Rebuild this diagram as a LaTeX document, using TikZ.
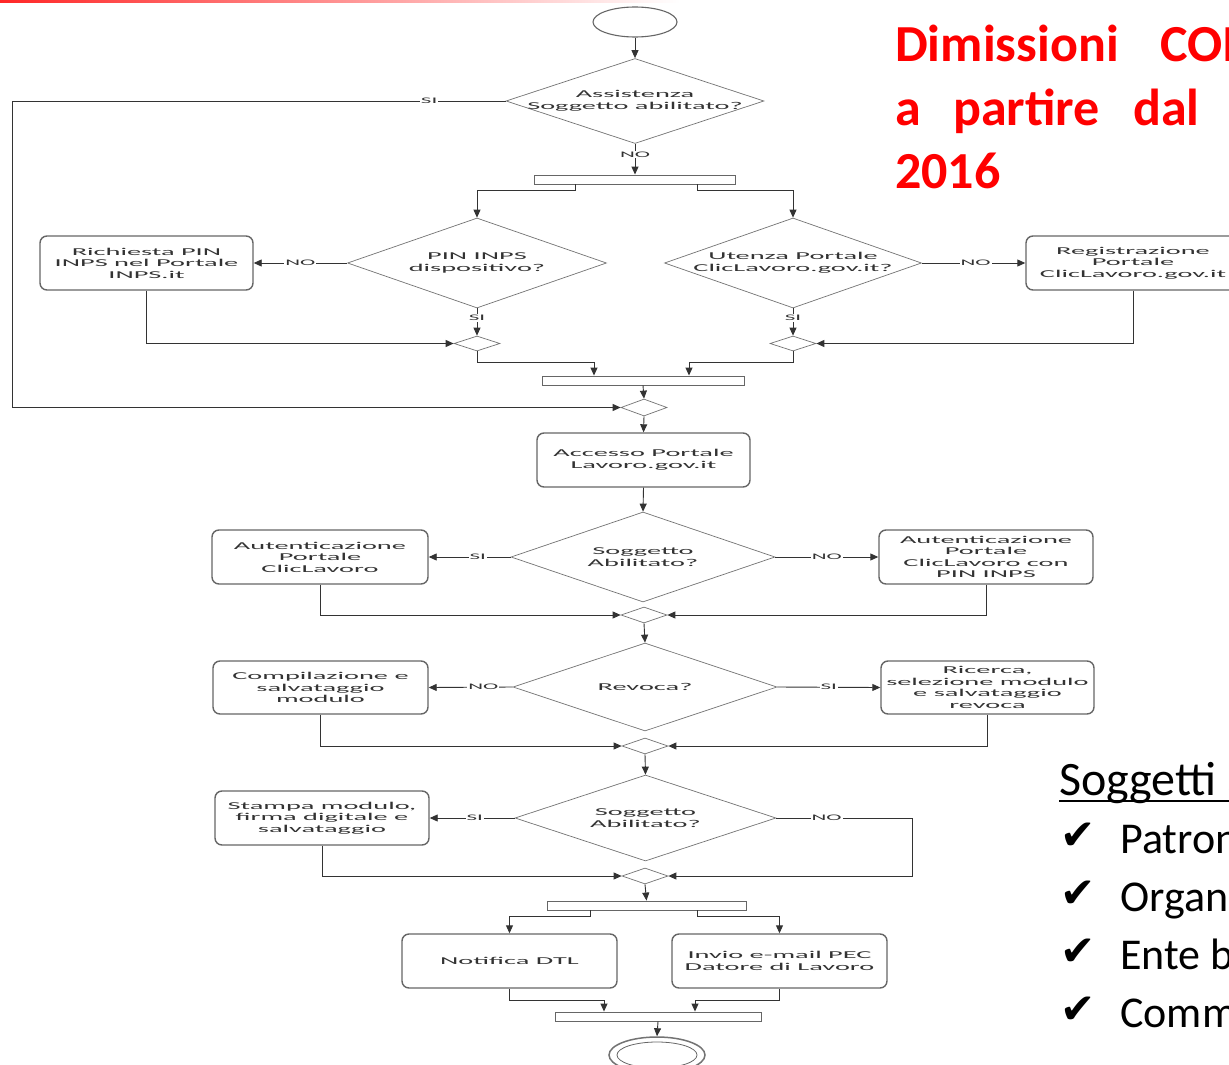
\documentclass[tikz,border=0pt]{standalone}
\usepackage{fontspec}
\setmainfont{Carlito}
\newfontfamily\flowfont[FakeStretch=2.7]{Carlito}
\newfontfamily\checkfont{DejaVu Sans}
\usetikzlibrary{shapes.geometric,arrows.meta}
\definecolor{titlered}{RGB}{255,0,0}
\newcommand\flowtext{\flowfont\fontsize{10.5}{11.5}\selectfont}
\newcommand\flowsmall{\flowfont\fontsize{8.5}{9}\selectfont}
\tikzset{
 ln/.style={draw=black!80, line width=0.9pt},
 arr/.style={ln, -{Triangle[length=8pt,width=7pt]}},
 box/.style={draw=black!60, line width=1.4pt, rounded corners=7pt, fill=white, align=center, minimum width=213pt, minimum height=54pt, inner sep=0pt, font=\flowtext, text=black!80},
 dec/.style={diamond, draw=black!55, line width=0.7pt, fill=white, inner sep=0pt},
 dectext/.style={align=center, font=\flowtext, inner sep=0pt, text=black!80},
 merge/.style={diamond, draw=black!55, line width=0.7pt, fill=white, inner sep=0pt, minimum width=46pt, minimum height=16pt},
 bar/.style={rectangle, draw=black!60, line width=0.9pt, fill=white, inner sep=0pt, minimum height=9pt},
 lab/.style={fill=white, inner sep=1pt, font=\flowsmall, text=black!80},
 ttl/.style={anchor=base west, inner sep=0pt, text=titlered, font=\bfseries\fontsize{52}{60}\selectfont},
 itm/.style={anchor=base west, inner sep=0pt, font=\fontsize{44}{50}\selectfont},
 chk/.style={anchor=base west, inner sep=0pt, font=\checkfont\fontsize{42}{44}\selectfont},
}
\begin{document}
\begin{tikzpicture}[x=1pt,y=-1pt]
\useasboundingbox (0,0) rectangle (1229,1065);
\clip (0,0) rectangle (1229,1065);
\fill[white] (0,0) rectangle (1229,1065);
\fill[left color=red!85, right color=white] (0,0) rectangle (680,3);

% title
\node[ttl] (ti1) at (895,62) {Dimissioni};
\node[ttl] (ti2) at (1160,62) {COM};
\node[ttl] (ti3) at (895,125) {a};
\node[ttl] (ti4) at (953,125) {partire};
\node[ttl] (ti5) at (1133,125) {dal};
\node[ttl] (ti6) at (895,188) {2016};

% soggetti
\node[itm, font=\fontsize{48}{50}\selectfont] (sh) at (1059,795) {Soggetti abilitati};
\draw[line width=2pt] (1059,801) -- (1229,801);
\node[chk] (k1) at (1060,849) {✔};
\node[itm] (i1) at (1120,853) {Patronati};
\node[chk] (k2) at (1060,907) {✔};
\node[itm] (i2) at (1120,911) {Organizzazioni};
\node[chk] (k3) at (1060,965) {✔};
\node[itm] (i3) at (1120,969) {Ente bilaterale};
\node[chk] (k4) at (1060,1023) {✔};
\node[itm] (i4) at (1120,1027) {Commissioni};

% flowchart nodes
\node[ellipse, draw=black!60, line width=1.1pt, minimum width=84pt, minimum height=30pt, inner sep=0pt] (s) at (635,22) {};

\node[dec, minimum width=258pt, minimum height=85pt] (d1) at (635,101) {};
\node[dectext] (t1) at (d1) {Assistenza\\Soggetto abilitato?};
\node[bar, minimum width=201pt] (f1) at (635,179.5) {};

\node[dec, minimum width=259pt, minimum height=90pt] (d2) at (477,263) {};
\node[dectext] (t2) at (d2) {PIN INPS\\dispositivo?};
\node[dec, minimum width=257pt, minimum height=90pt] (d3) at (793,263) {};
\node[dectext] (t3) at (d3) {Utenza Portale\\ClicLavoro.gov.it?};

\node[box] (b1) at (146.5,263) {Richiesta PIN\\INPS nel Portale\\INPS.it};
\node[box, minimum width=214pt] (b2) at (1133,263) {Registrazione\\Portale\\ClicLavoro.gov.it};

\node[merge, minimum height=15pt] (m1) at (477,343.5) {};
\node[merge, minimum height=15pt] (m2) at (793,343.5) {};
\node[bar, minimum width=202pt] (f2) at (643,380.5) {};
\node[merge, minimum height=17pt] (m3) at (644,407.5) {};

\node[box] (b3) at (643.5,460) {Accesso Portale\\Lavoro.gov.it};
\node[dec, minimum width=264pt, minimum height=90pt] (d4) at (643,557) {};
\node[dectext] (t4) at (d4) {Soggetto\\Abilitato?};
\node[box, minimum width=216pt] (b4) at (320,557) {Autenticazione\\Portale\\ClicLavoro};
\node[box, minimum width=214pt] (b5) at (986,557) {Autenticazione\\Portale\\ClicLavoro con\\PIN INPS};
\node[merge] (m4) at (644,615) {};

\node[dec, minimum width=264pt, minimum height=88pt] (d5) at (645,687) {};
\node[dectext] (t5) at (d5) {Revoca?};
\node[box, minimum width=215pt, minimum height=53pt] (b6) at (320.5,687.5) {Compilazione e\\salvataggio\\modulo};
\node[box, minimum height=53pt] (b7) at (987.5,687.5) {Ricerca,\\selezione modulo\\e salvataggio\\revoca};
\node[merge] (m5) at (645,746) {};

\node[dec, minimum width=261pt, minimum height=86pt] (d6) at (645.5,818) {};
\node[dectext] (t6) at (d6) {Soggetto\\Abilitato?};
\node[box, minimum width=214pt] (b8) at (322,818) {Stampa modulo,\\firma digitale e\\salvataggio};
\node[merge] (m6) at (645,876) {};
\coordinate (c3) at (912,818);
\coordinate (c4) at (912,876);

\node[bar, minimum width=199pt] (f3) at (646.5,905.5) {};
\node[box, minimum width=215pt] (b9) at (509.5,961) {Notifica DTL};
\node[box, minimum width=215pt] (b10) at (779.5,961) {Invio e-mail PEC\\Datore di Lavoro};
\node[bar, minimum width=206pt] (f4) at (658,1016.5) {};

\node[ellipse, draw=black!55, line width=1.5pt, minimum width=96pt, minimum height=36pt, inner sep=0pt] (e) at (657,1055) {};
\node[ellipse, draw=black!60, line width=0.8pt, minimum width=80pt, minimum height=26pt, inner sep=0pt] (ei) at (e) {};

\coordinate (c1) at (12,101);
\coordinate (c2) at (12,407.5);

% connectors
\draw[arr] (s) -- (d1);
\draw[arr] (d1.west) -- node[lab, pos=0.155]{SI} (c1) -- (c2) -- (m3.west);
\draw[arr] (d1.south) -- node[lab, pos=0.34]{NO} (f1.north);
\draw[arr] ([xshift=-60pt]f1.south) -- ++(0,6) -| (d2.north);
\draw[arr] ([xshift=62pt]f1.south) -- ++(0,6) -| (d3.north);
\draw[arr] (d2.west) -- node[lab, pos=0.5]{NO} (b1.east);
\draw[arr] (d3.east) -- node[lab, pos=0.52]{NO} (b2.west);
\draw[arr] (d2.south) -- node[lab, pos=0.36]{SI} (m1.north);
\draw[arr] (d3.south) -- node[lab, pos=0.36]{SI} (m2.north);
\draw[arr] (b1.south) |- (m1.west);
\draw[arr] (b2.south) |- (m2.east);
\draw[arr] (m1.south) -- ++(0,11) -| ([xshift=-49pt]f2.north);
\draw[arr] (m2.south) -- ++(0,11) -| ([xshift=46pt]f2.north);
\draw[arr] (f2.south) -- (m3.north);
\draw[arr] (m3.south) -- (b3.north);
\draw[arr] (b3.south) -- (d4.north);
\draw[arr] (d4.west) -- node[lab, pos=0.4]{SI} (b4.east);
\draw[arr] (d4.east) -- node[lab, pos=0.5]{NO} (b5.west);
\draw[arr] (b4.south) |- (m4.west);
\draw[arr] (b5.south) |- (m4.east);
\draw[arr] (m4.south) -- (d5.north);
\draw[arr] (d5.west) -- node[lab, pos=0.35]{NO} (b6.east);
\draw[arr] (d5.east) -- node[lab, pos=0.5]{SI} (b7.west);
\draw[arr] (b6.south) |- (m5.west);
\draw[arr] (b7.south) |- (m5.east);
\draw[arr] (m5.south) -- (d6.north);
\draw[arr] (d6.west) -- node[lab, pos=0.47]{SI} (b8.east);
\draw[arr] (d6.east) -- node[lab, pos=0.37]{NO} (c3) -- (c4) -- (m6.east);
\draw[arr] (b8.south) |- (m6.west);
\draw[arr] (m6.south) -- (f3.north);
\draw[arr] ([xshift=-56.5pt]f3.south) -- ++(0,6) -| (b9.north);
\draw[arr] ([xshift=50.5pt]f3.south) -- ++(0,6) -| (b10.north);
\draw[arr] (b9.south) -- ++(0,12) -| ([xshift=-54pt]f4.north);
\draw[arr] (b10.south) -- ++(0,12) -| ([xshift=37pt]f4.north);
\draw[arr] (f4.south) -- (e.north);
\end{tikzpicture}
\end{document}
